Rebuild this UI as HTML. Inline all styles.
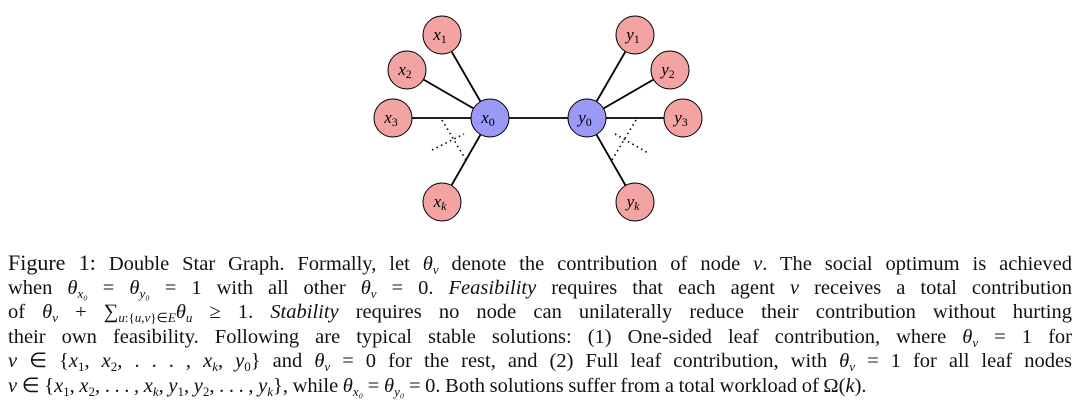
<!DOCTYPE html>
<html><head><meta charset="utf-8"><style>
body{margin:0;width:1080px;height:405px;background:#fff;overflow:hidden;font-family:"Liberation Serif",serif;color:#111}
.cap{position:absolute;left:8px;top:251px;width:1064px;font-size:20.5px}
.l{height:24.5px;line-height:24.5px;text-align:justify;text-align-last:justify;white-space:nowrap}
.last{text-align-last:left;word-spacing:-0.5px}
i{font-style:italic}
sub{font-size:13px;line-height:0;vertical-align:baseline;position:relative;top:4px}
</style></head><body>
<svg width="1080" height="240" style="position:absolute;left:0;top:0" font-family="Liberation Serif" font-style="italic" font-size="17">
<g stroke="#000" stroke-width="1.8">
<line x1="490" y1="118" x2="587" y2="118"/>
<line x1="490" y1="118" x2="442" y2="35"/><line x1="490" y1="118" x2="407" y2="70"/><line x1="490" y1="118" x2="393" y2="118"/><line x1="490" y1="118" x2="442" y2="202"/>
<line x1="587" y1="118" x2="635" y2="35"/><line x1="587" y1="118" x2="670" y2="70"/><line x1="587" y1="118" x2="683" y2="118"/><line x1="587" y1="118" x2="635" y2="202"/>
</g>
<g stroke="#000" stroke-width="1.6" stroke-dasharray="1.5,3.5" fill="none">
<line x1="442" y1="120" x2="466" y2="160"/><line x1="432" y1="150" x2="464" y2="134"/>
<line x1="636" y1="120" x2="612" y2="160"/><line x1="615" y1="134" x2="648" y2="153"/>
</g>
<g stroke="#000" stroke-width="1" fill="#f4a3a3">
<circle cx="442" cy="35" r="19"/><circle cx="407" cy="70" r="19"/><circle cx="393" cy="118" r="19"/><circle cx="442" cy="202" r="19"/>
<circle cx="635" cy="35" r="19"/><circle cx="670" cy="70" r="19"/><circle cx="683" cy="118" r="19"/><circle cx="635" cy="202" r="19"/>
</g>
<g stroke="#000" stroke-width="1" fill="#9a9af6">
<circle cx="490" cy="118" r="19"/><circle cx="587" cy="118" r="19"/>
</g>
<g text-anchor="middle">
<text x="440" y="40">x<tspan font-style="normal" font-size="12" dy="3">1</tspan></text>
<text x="405" y="75">x<tspan font-style="normal" font-size="12" dy="3">2</tspan></text>
<text x="391" y="123">x<tspan font-style="normal" font-size="12" dy="3">3</tspan></text>
<text x="440" y="207">x<tspan font-size="12" dy="3">k</tspan></text>
<text x="488" y="123">x<tspan font-style="normal" font-size="12" dy="3">0</tspan></text>
<text x="585" y="123">y<tspan font-style="normal" font-size="12" dy="3">0</tspan></text>
<text x="633" y="40">y<tspan font-style="normal" font-size="12" dy="3">1</tspan></text>
<text x="668" y="75">y<tspan font-style="normal" font-size="12" dy="3">2</tspan></text>
<text x="681" y="123">y<tspan font-style="normal" font-size="12" dy="3">3</tspan></text>
<text x="633" y="207">y<tspan font-size="12" dy="3">k</tspan></text>
</g>
</svg>
<div class="cap">
<div class="l"><span style="font-size:22px">Figure 1:</span> Double Star Graph. Formally, let <i>θ<sub>v</sub></i> denote the contribution of node <i>v</i>. The social optimum is achieved</div>
<div class="l">when <i>θ<sub>x₀</sub></i> = <i>θ<sub>y₀</sub></i> = 1 with all other <i>θ<sub>v</sub></i> = 0. <i>Feasibility</i> requires that each agent <i>v</i> receives a total contribution</div>
<div class="l">of <i>θ<sub>v</sub></i> + ∑<sub><i>u</i>:{<i>u</i>,<i>v</i>}∈<i>E</i></sub><i>θ<sub>u</sub></i> ≥ 1. <i>Stability</i> requires no node can unilaterally reduce their contribution without hurting</div>
<div class="l">their own feasibility. Following are typical stable solutions: (1) One-sided leaf contribution, where <i>θ<sub>v</sub></i> = 1 for</div>
<div class="l"><i>v</i> ∈ {<i>x</i><sub>1</sub>, <i>x</i><sub>2</sub>, . . . , <i>x<sub>k</sub></i>, <i>y</i><sub>0</sub>} and <i>θ<sub>v</sub></i> = 0 for the rest, and (2) Full leaf contribution, with <i>θ<sub>v</sub></i> = 1 for all leaf nodes</div>
<div class="l last"><i>v</i> ∈ {<i>x</i><sub>1</sub>, <i>x</i><sub>2</sub>, . . . , <i>x<sub>k</sub></i>, <i>y</i><sub>1</sub>, <i>y</i><sub>2</sub>, . . . , <i>y<sub>k</sub></i>}, while <i>θ<sub>x₀</sub></i> = <i>θ<sub>y₀</sub></i> = 0. Both solutions suffer from a total workload of Ω(<i>k</i>).</div>
</div>
</body></html>
